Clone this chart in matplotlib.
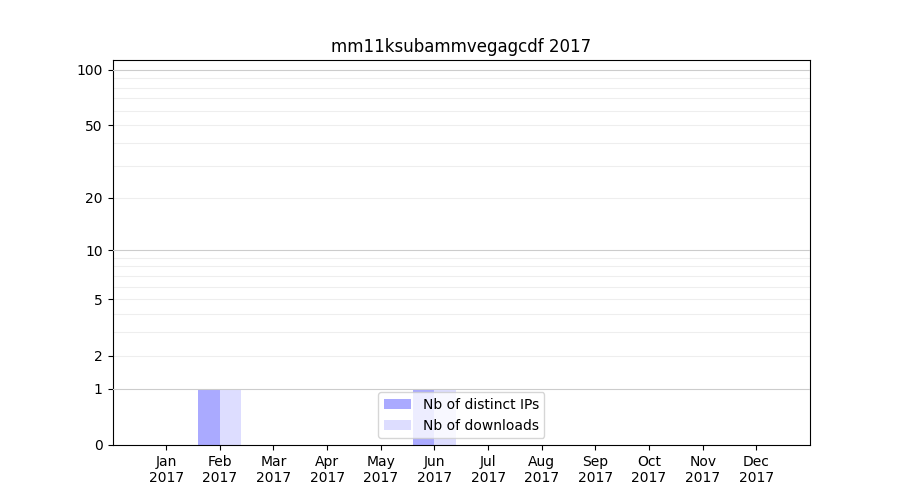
import numpy as np
import matplotlib
matplotlib.use('Agg')
import matplotlib.pyplot as plt

# Data
months = ['Jan', 'Feb', 'Mar', 'Apr', 'May', 'Jun', 'Jul', 'Aug', 'Sep', 'Oct', 'Nov', 'Dec']
year = 2017
distinct_ips = [0, 1, 0, 0, 0, 1, 0, 0, 0, 0, 0, 0]
downloads = [0, 1, 0, 0, 0, 1, 0, 0, 0, 0, 0, 0]
ytick_values = [0, 1, 2, 5, 10, 20, 50, 100]

fig, ax = plt.subplots(figsize=(9, 5), dpi=100)

# log(1+x) scale
ax.set_yscale('function', functions=(lambda v: np.log10(1 + np.maximum(v, 0)),
                                     lambda v: 10 ** v - 1))

x = np.arange(len(months))
width = 0.4

# light grid lines, darker at each decade
for d in [1, 10]:
    for k in range(2, 10):
        ax.axhline(d * k, color='#eeeeee', linewidth=0.8, zorder=0)
for d in [1, 10, 100]:
    ax.axhline(d, color='#cccccc', linewidth=0.8, zorder=3)

ax.bar(x - width / 2, distinct_ips, width, color='#aaaaff', label='Nb of distinct IPs', zorder=2)
ax.bar(x + width / 2, downloads, width, color='#ddddff', label='Nb of downloads', zorder=2)

ax.set_xticks(x)
ax.set_xticklabels([f'{m}\n{year}' for m in months])
ax.set_xlim(-1, 12)

ax.set_yticks(ytick_values)
ax.set_yticklabels([str(v) for v in ytick_values])
ax.yaxis.set_minor_locator(matplotlib.ticker.NullLocator())
ax.set_ylim(0, 113)

ax.set_title(f'mm11ksubammvegagcdf {year}')
ax.legend(loc='lower center')

plt.savefig('out.png', dpi=100)
